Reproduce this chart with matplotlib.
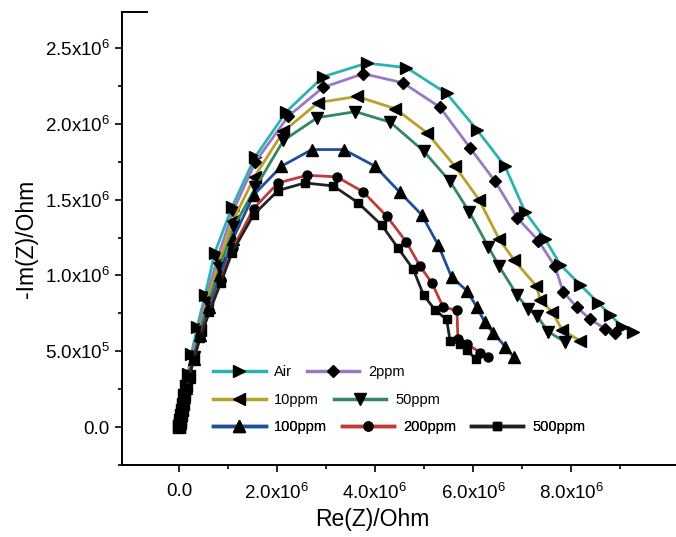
import matplotlib
matplotlib.use('Agg')
import matplotlib.pyplot as plt
from matplotlib.ticker import FixedLocator, MultipleLocator, FuncFormatter
from matplotlib.lines import Line2D

plt.rcParams['font.family'] = ['Liberation Sans', 'DejaVu Sans']
plt.rcParams['mathtext.default'] = 'regular'

### Data (Re and -Im in units of 1e6 Ohm)
air_re = [0.0, 0.006, 0.011, 0.023, 0.04, 0.057, 0.08, 0.10, 0.14, 0.18, 0.25, 0.37, 0.53, 0.73, 1.08,
          1.55, 2.19, 2.94, 3.83, 4.64, 5.46, 6.08, 6.65, 7.06, 7.47, 7.78, 8.18, 8.55, 8.80, 9.04, 9.27]
air_im = [0.0, 0.01, 0.03, 0.05, 0.08, 0.11, 0.15, 0.21, 0.27, 0.35, 0.48, 0.66, 0.87, 1.15, 1.45,
          1.78, 2.08, 2.31, 2.40, 2.37, 2.20, 1.96, 1.72, 1.42, 1.24, 1.07, 0.94, 0.82, 0.74, 0.66, 0.63]

ppm2_re = [0.0, 0.006, 0.011, 0.023, 0.04, 0.057, 0.08, 0.10, 0.15, 0.19, 0.27, 0.40, 0.56, 0.79, 1.11,
           1.56, 2.23, 2.94, 3.76, 4.57, 5.32, 5.94, 6.45, 6.90, 7.33, 7.67, 7.84, 8.12, 8.39, 8.69, 8.90]
ppm2_im = [0.0, 0.01, 0.03, 0.05, 0.08, 0.11, 0.15, 0.21, 0.27, 0.34, 0.47, 0.65, 0.86, 1.12, 1.43,
           1.75, 2.05, 2.24, 2.33, 2.27, 2.11, 1.84, 1.62, 1.38, 1.23, 1.06, 0.89, 0.79, 0.71, 0.65, 0.62]

ppm10_re = [0.0, 0.006, 0.011, 0.023, 0.04, 0.057, 0.08, 0.10, 0.15, 0.20, 0.29, 0.42, 0.58, 0.81, 1.10,
            1.54, 2.13, 2.84, 3.63, 4.41, 5.06, 5.63, 6.12, 6.53, 6.84, 7.29, 7.37, 7.61, 7.82, 8.18]
ppm10_im = [0.0, 0.01, 0.03, 0.05, 0.08, 0.11, 0.15, 0.21, 0.27, 0.34, 0.46, 0.64, 0.84, 1.08, 1.36,
            1.65, 1.95, 2.14, 2.18, 2.10, 1.94, 1.72, 1.50, 1.24, 1.10, 0.93, 0.84, 0.76, 0.64, 0.57]

ppm50_re = [0.0, 0.006, 0.011, 0.023, 0.04, 0.057, 0.08, 0.10, 0.15, 0.20, 0.30, 0.42, 0.60, 0.83, 1.12,
            1.56, 2.13, 2.82, 3.60, 4.31, 4.99, 5.53, 5.92, 6.31, 6.53, 6.90, 7.12, 7.31, 7.53, 7.88]
ppm50_im = [0.0, 0.01, 0.03, 0.05, 0.08, 0.11, 0.15, 0.21, 0.27, 0.34, 0.46, 0.63, 0.82, 1.05, 1.32,
            1.58, 1.89, 2.04, 2.08, 2.01, 1.82, 1.62, 1.42, 1.19, 1.06, 0.87, 0.78, 0.73, 0.63, 0.56]

ppm100_re = [0.0, 0.006, 0.011, 0.023, 0.04, 0.057, 0.08, 0.10, 0.15, 0.20, 0.30, 0.43, 0.61, 0.84, 1.10,
             1.52, 2.09, 2.71, 3.36, 4.00, 4.50, 4.95, 5.29, 5.56, 5.87, 6.08, 6.24, 6.41, 6.66, 6.83]
ppm100_im = [0.0, 0.01, 0.03, 0.05, 0.08, 0.11, 0.15, 0.20, 0.26, 0.33, 0.45, 0.61, 0.79, 1.00, 1.24,
             1.53, 1.72, 1.83, 1.83, 1.72, 1.55, 1.40, 1.20, 0.99, 0.90, 0.79, 0.69, 0.62, 0.53, 0.46]

ppm200_re = [0.0, 0.006, 0.011, 0.023, 0.04, 0.057, 0.08, 0.10, 0.15, 0.20, 0.30, 0.43, 0.62, 0.85, 1.10,
             1.52, 2.02, 2.61, 3.22, 3.76, 4.24, 4.64, 4.92, 5.16, 5.39, 5.67, 5.69, 5.87, 6.15, 6.31]
ppm200_im = [0.0, 0.01, 0.03, 0.05, 0.08, 0.11, 0.15, 0.20, 0.26, 0.33, 0.44, 0.60, 0.77, 0.97, 1.18,
             1.44, 1.61, 1.66, 1.65, 1.55, 1.39, 1.22, 1.06, 0.95, 0.79, 0.77, 0.58, 0.55, 0.49, 0.46]

ppm500_re = [0.0, 0.006, 0.011, 0.023, 0.04, 0.057, 0.08, 0.10, 0.15, 0.20, 0.30, 0.43, 0.62, 0.85, 1.08,
             1.52, 2.02, 2.57, 3.15, 3.65, 4.14, 4.47, 4.78, 4.99, 5.23, 5.46, 5.53, 5.74, 5.87, 6.05]
ppm500_im = [0.0, 0.01, 0.03, 0.05, 0.08, 0.11, 0.15, 0.20, 0.26, 0.33, 0.44, 0.59, 0.76, 0.95, 1.15,
             1.40, 1.56, 1.61, 1.59, 1.48, 1.33, 1.18, 1.04, 0.87, 0.77, 0.71, 0.57, 0.55, 0.51, 0.45]

labels  = ['Air', '2ppm', '10ppm', '50ppm', '100ppm', '200ppm', '500ppm']
colors  = ['#2bb3b1', '#9a78c2', '#b9a02a', '#33875e', '#1f4f9a', '#c23a3a', '#222222']
markers = ['>', 'D', '<', 'v', '^', 'o', 's']
series  = [(air_re, air_im), (ppm2_re, ppm2_im), (ppm10_re, ppm10_im), (ppm50_re, ppm50_im),
           (ppm100_re, ppm100_im), (ppm200_re, ppm200_im), (ppm500_re, ppm500_im)]

x_major = [0, 2e6, 4e6, 6e6, 8e6]
x_minor = [1e6, 3e6, 5e6, 7e6, 9e6]

W, H = 676, 537
fig = plt.figure(figsize=(W/100, H/100), dpi=100)
ax = fig.add_axes([121.7/W, (H-465)/H, (W-121.7)/W, (465-12)/H])

msize = {'>': 8, 'D': 6.5, '<': 8, 'v': 8, '^': 8, 'o': 6.5, 's': 6}
for (re, im), lab, c, m in zip(series, labels, colors, markers):
    ax.plot([v*1e6 for v in re], [v*1e6 for v in im], color=c, lw=2.0,
            marker=m, ms=msize[m], mfc='black', mec='black', label=lab)

ax.set_xlim(-1.17e6, 10.14e6)
ax.set_ylim(-0.25e6, 2.737e6)

def fmt(v, pos):
    if abs(v) < 1e-9:
        return '0.0'
    e = int(f'{v:e}'.split('e')[1])
    return f'{v/10**e:.1f}x10$^{{{e}}}$'

ax.xaxis.set_major_locator(FixedLocator(x_major))
ax.xaxis.set_minor_locator(FixedLocator(x_minor))
ax.yaxis.set_major_locator(MultipleLocator(5e5))
ax.yaxis.set_minor_locator(MultipleLocator(2.5e5))
ax.xaxis.set_major_formatter(FuncFormatter(fmt))
ax.yaxis.set_major_formatter(FuncFormatter(fmt))

for s in ['top', 'right']:
    ax.spines[s].set_visible(False)
for s in ['left', 'bottom']:
    ax.spines[s].set_linewidth(1.4)
ax.tick_params(which='major', direction='out', length=5, width=1.2, labelsize=13.5, colors='black')
ax.tick_params(which='minor', direction='out', length=3, width=1.2)
ax.tick_params(axis='x', pad=8)

ax.set_xlabel('Re(Z)/Ohm', fontsize=16.5)
ax.xaxis.set_label_coords((372 - 121.7)/(W - 121.7), -(508 - 465)/(465 - 12))
ax.set_ylabel('-Im(Z)/Ohm', fontsize=16.5, labelpad=5)

# short cap at top of the y axis
ax.plot([0, 0.045], [1, 1], transform=ax.transAxes, color='black', lw=1.4, clip_on=False)

## Legend, laid out in three rows
handles = [Line2D([], [], color=c, lw=2.5, marker=m, ms=msize[m], mfc='black', mec='black')
           for c, m in zip(colors, markers)]
rows = [(0, 2, 372), (2, 4, 400), (4, 7, 427)]
for i0, i1, ypix in rows:
    leg = ax.legend(handles[i0:i1], labels[i0:i1], ncol=i1-i0, frameon=False,
                    loc='center left', bbox_to_anchor=(213/W, 1-ypix/H),
                    bbox_transform=fig.transFigure, borderaxespad=0, borderpad=0,
                    handlelength=3.6, handletextpad=0.6, columnspacing=1.0, fontsize=10.5)
    ax.add_artist(leg)

fig.savefig('out.png', dpi=100)
